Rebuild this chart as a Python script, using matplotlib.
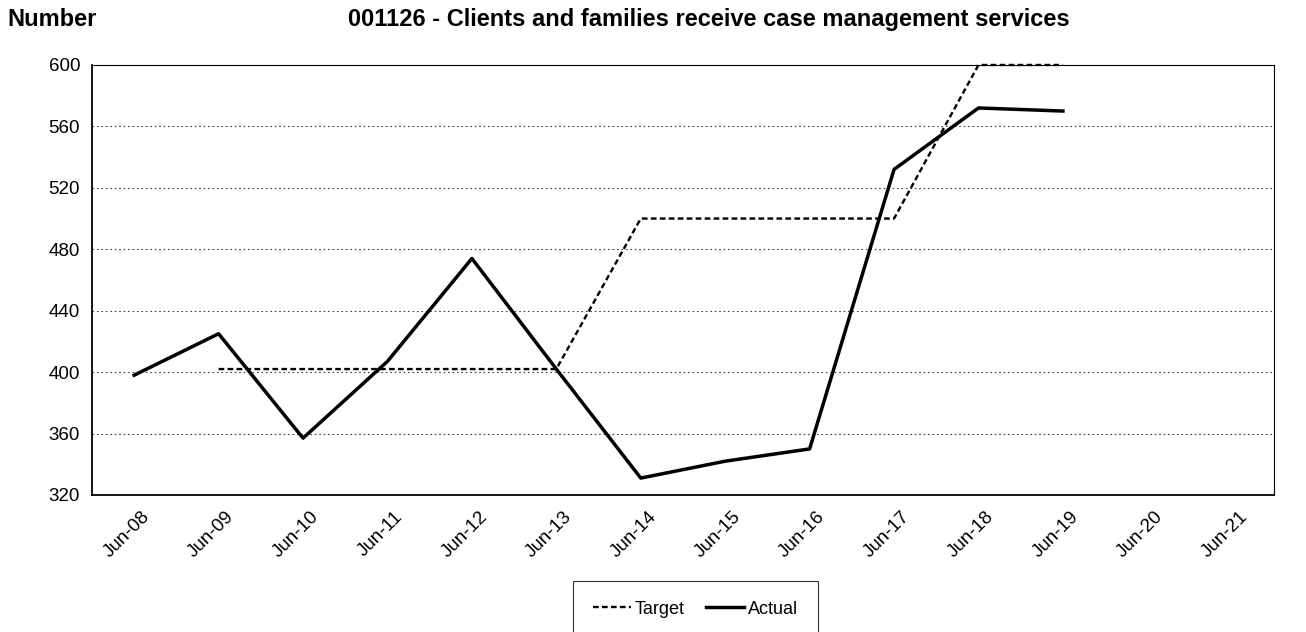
import matplotlib
matplotlib.use('Agg')
import matplotlib.pyplot as plt
import matplotlib.transforms as mtransforms
import numpy as np

plt.rcParams['font.family'] = ['Liberation Sans', 'DejaVu Sans']

categories = ['Jun-08', 'Jun-09', 'Jun-10', 'Jun-11', 'Jun-12', 'Jun-13', 'Jun-14',
              'Jun-15', 'Jun-16', 'Jun-17', 'Jun-18', 'Jun-19', 'Jun-20', 'Jun-21']
actual = [398, 425, 357, 407, 474, 402, 331, 342, 350, 532, 572, 570, None, None]
target = [None, 402, 402, 402, 402, 402, 500, 500, 500, 500, 600, 600, None, None]

def to_arr(vals):
    return np.array([np.nan if v is None else v for v in vals], dtype=float)

x = np.arange(len(categories))

fig = plt.figure(figsize=(13.06, 6.32), dpi=100)
ax = fig.add_axes([0.0704, 0.2168, 0.9051, 0.6804])

ax.plot(x, to_arr(target), color='black', linewidth=1.7, linestyle=(0, (2.4, 1.4)),
        label='Target', zorder=5, clip_on=False)
ax.plot(x, to_arr(actual), color='black', linewidth=2.5, label='Actual', zorder=6)

ax.set_xlim(-0.5, len(categories) - 0.5)
ax.set_ylim(320, 600)
ax.set_yticks(np.arange(320, 601, 40))
ax.set_xticks(x)
ax.set_xticklabels(categories, rotation=45, ha='right', va='top', rotation_mode='anchor')
ax.tick_params(axis='both', length=0, labelsize=13.5, colors='black')
ax.tick_params(axis='x', pad=8)
ax.tick_params(axis='y', pad=8.5)

offset = mtransforms.ScaledTranslation(0.07, -0.02, fig.dpi_scale_trans)
for lab in ax.get_xticklabels():
    lab.set_transform(lab.get_transform() + offset)

for yv in np.arange(360, 600, 40):
    ax.axhline(yv, color='#444444', linewidth=0.8, linestyle=(0, (1.5, 2.5)), zorder=1)

for side in ['left', 'bottom']:
    ax.spines[side].set_linewidth(1.3)
for side in ['top', 'right']:
    ax.spines[side].set_linewidth(0.8)

fig.text(0.006, 0.969, 'Number', fontsize=17, fontweight='bold', va='center', ha='left')
fig.text(0.543, 0.969, '001126 - Clients and families receive case management services',
         fontsize=17, fontweight='bold', va='center', ha='center')

leg = fig.legend(loc='upper center', bbox_to_anchor=(0.5325, 0.081), ncol=2,
                 fontsize=13, frameon=True, fancybox=False, edgecolor='black',
                 borderpad=1.1, handlelength=2.1, handletextpad=0.2, columnspacing=1.2,
                 borderaxespad=0)
leg.get_frame().set_linewidth(0.8)

plt.savefig('out.png', dpi=100)
